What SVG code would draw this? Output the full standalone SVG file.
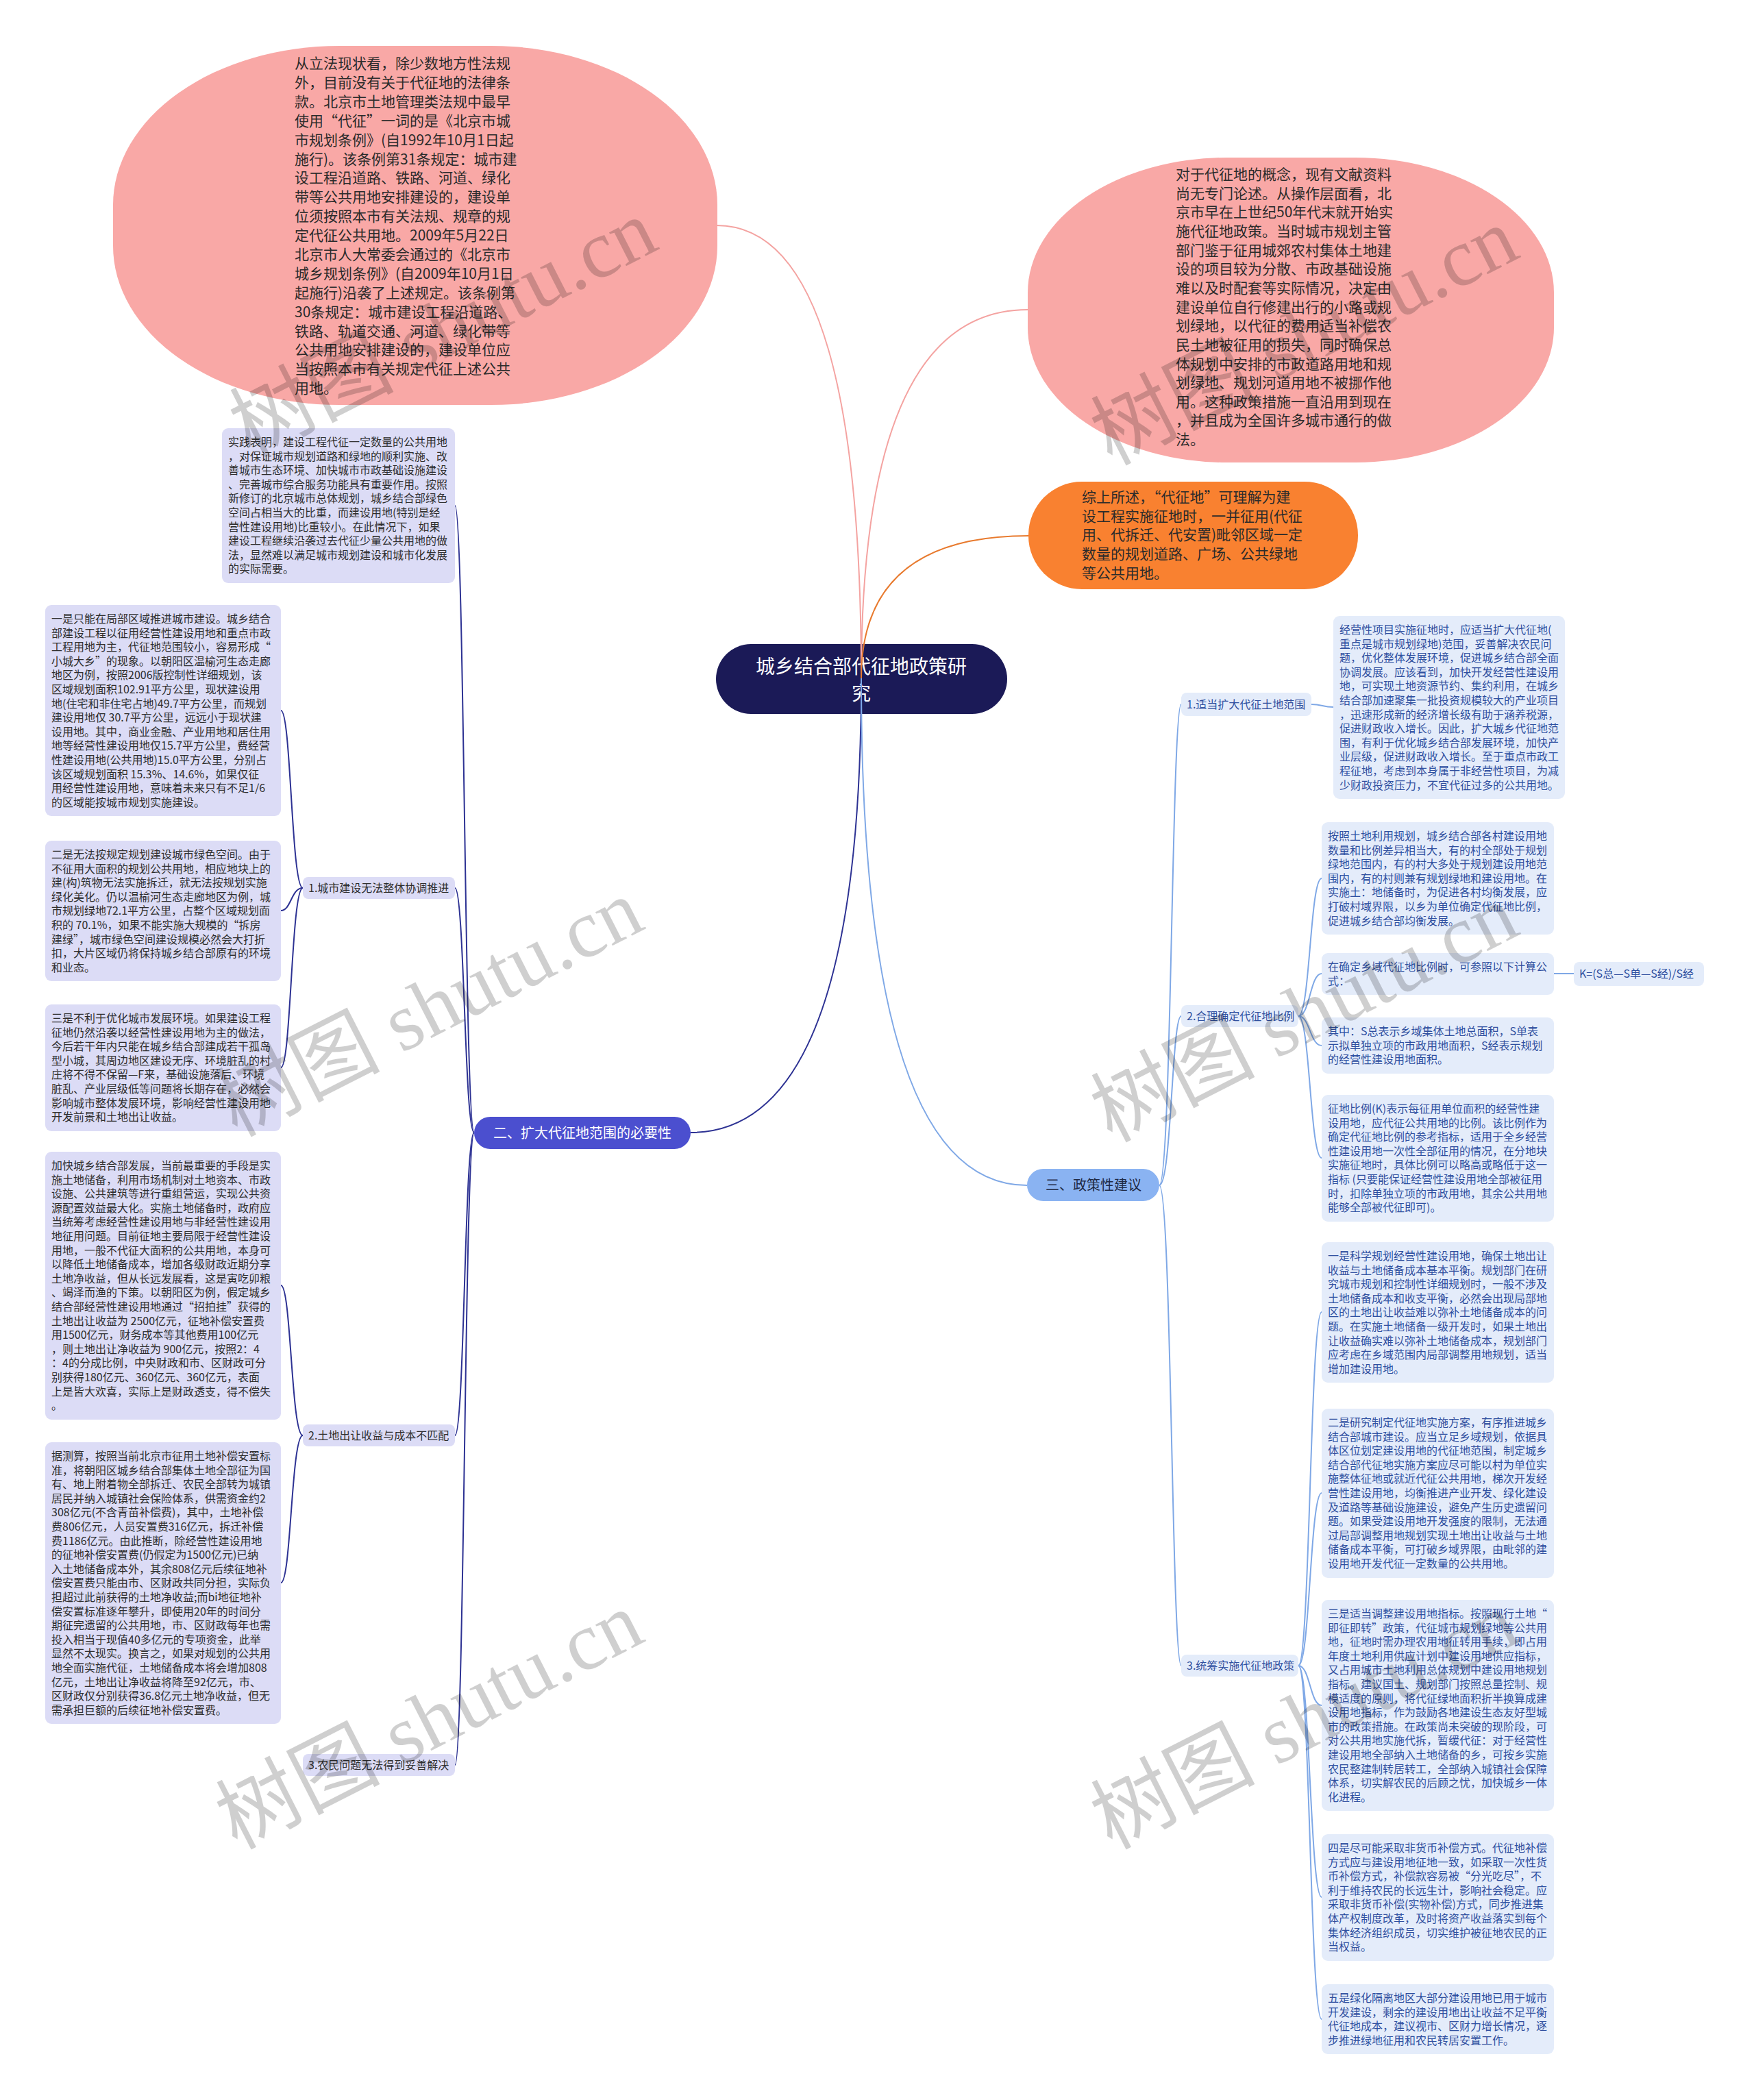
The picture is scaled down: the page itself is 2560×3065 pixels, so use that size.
<svg xmlns="http://www.w3.org/2000/svg" width="2560" height="3065" viewBox="0 0 2560 3065">
<style>
text{font-family:"Noto Sans CJK SC","Liberation Sans",sans-serif}
.big{font-size:21px;fill:#2b2b2b}
.sm{font-size:16px;fill:#2e2e2e}
.smb{font-size:16px;fill:#2f4f9f}
.lav{fill:#dcdcf6}
.lb{fill:#e4ecfa}
.cn{fill:none;stroke-width:2}
.nv{stroke:#2d3293}
.bl{stroke:#7fa8e6}
.wm text{font-family:"Liberation Serif","Noto Sans CJK SC",serif;font-size:120px;fill:#000;fill-opacity:0.19}
</style>
<rect width="2560" height="3065" fill="#ffffff"/>

<g id="n-topleft">
<rect x="165" y="67" width="882" height="524" rx="330" ry="232" fill="#f9a8a6"/>
<text class="big" x="430" y="100"><tspan x="430" dy="0">从立法现状看，除少数地方性法规</tspan><tspan x="430" dy="27.9">外，目前没有关于代征地的法律条</tspan><tspan x="430" dy="27.9">款。北京市土地管理类法规中最早</tspan><tspan x="430" dy="27.9">使用“代征”一词的是《北京市城</tspan><tspan x="430" dy="27.9">市规划条例》(自1992年10月1日起</tspan><tspan x="430" dy="27.9">施行)。该条例第31条规定：城市建</tspan><tspan x="430" dy="27.9">设工程沿道路、铁路、河道、绿化</tspan><tspan x="430" dy="27.9">带等公共用地安排建设的，建设单</tspan><tspan x="430" dy="27.9">位须按照本市有关法规、规章的规</tspan><tspan x="430" dy="27.9">定代征公共用地。2009年5月22日</tspan><tspan x="430" dy="27.9">北京市人大常委会通过的《北京市</tspan><tspan x="430" dy="27.9">城乡规划条例》(自2009年10月1日</tspan><tspan x="430" dy="27.9">起施行)沿袭了上述规定。该条例第</tspan><tspan x="430" dy="27.9">30条规定：城市建设工程沿道路、</tspan><tspan x="430" dy="27.9">铁路、轨道交通、河道、绿化带等</tspan><tspan x="430" dy="27.9">公共用地安排建设的，建设单位应</tspan><tspan x="430" dy="27.9">当按照本市有关规定代征上述公共</tspan><tspan x="430" dy="27.9">用地。</tspan></text>
</g>

<g id="n-topright">
<rect x="1500" y="230" width="768" height="445" rx="290" ry="197" fill="#f9a8a6"/>
<text class="big" x="1716" y="262"><tspan x="1716" dy="0">对于代征地的概念，现有文献资料</tspan><tspan x="1716" dy="27.65">尚无专门论述。从操作层面看，北</tspan><tspan x="1716" dy="27.65">京市早在上世纪50年代末就开始实</tspan><tspan x="1716" dy="27.65">施代征地政策。当时城市规划主管</tspan><tspan x="1716" dy="27.65">部门鉴于征用城郊农村集体土地建</tspan><tspan x="1716" dy="27.65">设的项目较为分散、市政基础设施</tspan><tspan x="1716" dy="27.65">难以及时配套等实际情况，决定由</tspan><tspan x="1716" dy="27.65">建设单位自行修建出行的小路或规</tspan><tspan x="1716" dy="27.65">划绿地，以代征的费用适当补偿农</tspan><tspan x="1716" dy="27.65">民土地被征用的损失，同时确保总</tspan><tspan x="1716" dy="27.65">体规划中安排的市政道路用地和规</tspan><tspan x="1716" dy="27.65">划绿地、规划河道用地不被挪作他</tspan><tspan x="1716" dy="27.65">用。这种政策措施一直沿用到现在</tspan><tspan x="1716" dy="27.65">，并且成为全国许多城市通行的做</tspan><tspan x="1716" dy="27.65">法。</tspan></text>
</g>

<g id="n-orange">
<rect x="1501" y="703" width="481" height="157" rx="78" ry="78" fill="#f98130"/>
<text class="big" x="1579" y="733"><tspan x="1579" dy="0">综上所述，“代征地”可理解为建</tspan><tspan x="1579" dy="27.7">设工程实施征地时，一并征用(代征</tspan><tspan x="1579" dy="27.7">用、代拆迁、代安置)毗邻区域一定</tspan><tspan x="1579" dy="27.7">数量的规划道路、广场、公共绿地</tspan><tspan x="1579" dy="27.7">等公共用地。</tspan></text>
</g>

<g id="n-center">
<rect x="1045" y="940" width="425" height="102" rx="51" ry="51" fill="#1b1a57"/>
<text x="1257" y="983" text-anchor="middle" font-size="28" fill="#ffffff"><tspan x="1257" dy="0">城乡结合部代征地政策研</tspan><tspan x="1257" dy="39">究</tspan></text>
</g>

<g id="n-b2">
<rect x="692" y="1630" width="316" height="47" rx="23.5" fill="#4b4fcf"/>
<text x="850" y="1661" text-anchor="middle" font-size="20" fill="#ffffff">二、扩大代征地范围的必要性</text>
</g>

<g id="n-b3">
<rect x="1499" y="1706" width="193" height="47" rx="23.5" fill="#8ab3f2"/>
<text x="1596" y="1737" text-anchor="middle" font-size="20" fill="#1f2a44">三、政策性建议</text>
</g>

<g id="n-l0">
<rect class="lav" x="324" y="625" width="340" height="226" rx="9"/>
<text class="sm" x="333" y="651"><tspan x="333" dy="0">实践表明，建设工程代征一定数量的公共用地</tspan><tspan x="333" dy="20.6">，对保证城市规划道路和绿地的顺利实施、改</tspan><tspan x="333" dy="20.6">善城市生态环境、加快城市市政基础设施建设</tspan><tspan x="333" dy="20.6">、完善城市综合服务功能具有重要作用。按照</tspan><tspan x="333" dy="20.6">新修订的北京城市总体规划，城乡结合部绿色</tspan><tspan x="333" dy="20.6">空间占相当大的比重，而建设用地(特别是经</tspan><tspan x="333" dy="20.6">营性建设用地)比重较小。在此情况下，如果</tspan><tspan x="333" dy="20.6">建设工程继续沿袭过去代征少量公共用地的做</tspan><tspan x="333" dy="20.6">法，显然难以满足城市规划建设和城市化发展</tspan><tspan x="333" dy="20.6">的实际需要。</tspan></text>
</g>

<g id="n-l1label">
<rect class="lav" x="442" y="1280" width="222" height="32" rx="8"/>
<text class="sm" x="450" y="1302">1.城市建设无法整体协调推进</text>
</g>

<g id="n-l1">
<rect class="lav" x="66" y="883" width="344" height="308" rx="9"/>
<text class="sm" x="75" y="909"><tspan x="75" dy="0">一是只能在局部区域推进城市建设。城乡结合</tspan><tspan x="75" dy="20.6">部建设工程以征用经营性建设用地和重点市政</tspan><tspan x="75" dy="20.6">工程用地为主，代征地范围较小，容易形成“</tspan><tspan x="75" dy="20.6">小城大乡”的现象。以朝阳区温榆河生态走廊</tspan><tspan x="75" dy="20.6">地区为例，按照2006版控制性详细规划，该</tspan><tspan x="75" dy="20.6">区域规划面积102.91平方公里，现状建设用</tspan><tspan x="75" dy="20.6">地(住宅和非住宅占地)49.7平方公里，而规划</tspan><tspan x="75" dy="20.6">建设用地仅 30.7平方公里，远远小于现状建</tspan><tspan x="75" dy="20.6">设用地。其中，商业金融、产业用地和居住用</tspan><tspan x="75" dy="20.6">地等经营性建设用地仅15.7平方公里，费经营</tspan><tspan x="75" dy="20.6">性建设用地(公共用地)15.0平方公里，分别占</tspan><tspan x="75" dy="20.6">该区域规划面积 15.3%、14.6%，如果仅征</tspan><tspan x="75" dy="20.6">用经营性建设用地，意味着未来只有不足1/6</tspan><tspan x="75" dy="20.6">的区域能按城市规划实施建设。</tspan></text>
</g>

<g id="n-l2">
<rect class="lav" x="66" y="1227" width="344" height="205" rx="9"/>
<text class="sm" x="75" y="1253"><tspan x="75" dy="0">二是无法按规定规划建设城市绿色空间。由于</tspan><tspan x="75" dy="20.6">不征用大面积的规划公共用地，相应地块上的</tspan><tspan x="75" dy="20.6">建(构)筑物无法实施拆迁，就无法按规划实施</tspan><tspan x="75" dy="20.6">绿化美化。仍以温榆河生态走廊地区为例，城</tspan><tspan x="75" dy="20.6">市规划绿地72.1平方公里，占整个区域规划面</tspan><tspan x="75" dy="20.6">积的 70.1%，如果不能实施大规模的“拆房</tspan><tspan x="75" dy="20.6">建绿”，城市绿色空间建设规模必然会大打折</tspan><tspan x="75" dy="20.6">扣，大片区域仍将保持城乡结合部原有的环境</tspan><tspan x="75" dy="20.6">和业态。</tspan></text>
</g>

<g id="n-l3">
<rect class="lav" x="66" y="1466" width="344" height="185" rx="9"/>
<text class="sm" x="75" y="1492"><tspan x="75" dy="0">三是不利于优化城市发展环境。如果建设工程</tspan><tspan x="75" dy="20.6">征地仍然沿袭以经营性建设用地为主的做法，</tspan><tspan x="75" dy="20.6">今后若干年内只能在城乡结合部建成若干孤岛</tspan><tspan x="75" dy="20.6">型小城，其周边地区建设无序、环境脏乱的村</tspan><tspan x="75" dy="20.6">庄将不得不保留—F来，基础设施落后、环境</tspan><tspan x="75" dy="20.6">脏乱、产业层级低等问题将长期存在，必然会</tspan><tspan x="75" dy="20.6">影响城市整体发展环境，影响经营性建设用地</tspan><tspan x="75" dy="20.6">开发前景和土地出让收益。</tspan></text>
</g>

<g id="n-l2label">
<rect class="lav" x="442" y="2079" width="222" height="32" rx="8"/>
<text class="sm" x="450" y="2101">2.土地出让收益与成本不匹配</text>
</g>

<g id="n-l4">
<rect class="lav" x="66" y="1681" width="344" height="391" rx="9"/>
<text class="sm" x="75" y="1707"><tspan x="75" dy="0">加快城乡结合部发展，当前最重要的手段是实</tspan><tspan x="75" dy="20.6">施土地储备，利用市场机制对土地资本、市政</tspan><tspan x="75" dy="20.6">设施、公共建筑等进行重组营运，实现公共资</tspan><tspan x="75" dy="20.6">源配置效益最大化。实施土地储备时，政府应</tspan><tspan x="75" dy="20.6">当统筹考虑经营性建设用地与非经营性建设用</tspan><tspan x="75" dy="20.6">地征用问题。目前征地主要局限于经营性建设</tspan><tspan x="75" dy="20.6">用地，一般不代征大面积的公共用地，本身可</tspan><tspan x="75" dy="20.6">以降低土地储备成本，增加各级财政近期分享</tspan><tspan x="75" dy="20.6">土地净收益，但从长远发展看，这是寅吃卯粮</tspan><tspan x="75" dy="20.6">、竭泽而渔的下策。以朝阳区为例，假定城乡</tspan><tspan x="75" dy="20.6">结合部经营性建设用地通过“招拍挂”获得的</tspan><tspan x="75" dy="20.6">土地出让收益为 2500亿元，征地补偿安置费</tspan><tspan x="75" dy="20.6">用1500亿元，财务成本等其他费用100亿元</tspan><tspan x="75" dy="20.6">，则土地出让净收益为 900亿元，按照2：4</tspan><tspan x="75" dy="20.6">：4的分成比例，中央财政和市、区财政可分</tspan><tspan x="75" dy="20.6">别获得180亿元、360亿元、360亿元，表面</tspan><tspan x="75" dy="20.6">上是皆大欢喜，实际上是财政透支，得不偿失</tspan><tspan x="75" dy="20.6">。</tspan></text>
</g>

<g id="n-l5">
<rect class="lav" x="66" y="2105" width="344" height="411" rx="9"/>
<text class="sm" x="75" y="2131"><tspan x="75" dy="0">据测算，按照当前北京市征用土地补偿安置标</tspan><tspan x="75" dy="20.6">准，将朝阳区城乡结合部集体土地全部征为国</tspan><tspan x="75" dy="20.6">有、地上附着物全部拆迁、农民全部转为城镇</tspan><tspan x="75" dy="20.6">居民并纳入城镇社会保险体系，供需资金约2</tspan><tspan x="75" dy="20.6">308亿元(不含青苗补偿费)，其中，土地补偿</tspan><tspan x="75" dy="20.6">费806亿元，人员安置费316亿元，拆迁补偿</tspan><tspan x="75" dy="20.6">费1186亿元。由此推断，除经营性建设用地</tspan><tspan x="75" dy="20.6">的征地补偿安置费(仍假定为1500亿元)已纳</tspan><tspan x="75" dy="20.6">入土地储备成本外，其余808亿元后续征地补</tspan><tspan x="75" dy="20.6">偿安置费只能由市、区财政共同分担，实际负</tspan><tspan x="75" dy="20.6">担超过此前获得的土地净收益;而bi地征地补</tspan><tspan x="75" dy="20.6">偿安置标准逐年攀升，即使用20年的时间分</tspan><tspan x="75" dy="20.6">期征完遗留的公共用地，市、区财政每年也需</tspan><tspan x="75" dy="20.6">投入相当于现值40多亿元的专项资金，此举</tspan><tspan x="75" dy="20.6">显然不太现实。换言之，如果对规划的公共用</tspan><tspan x="75" dy="20.6">地全面实施代征，土地储备成本将会增加808</tspan><tspan x="75" dy="20.6">亿元，土地出让净收益将降至92亿元，市、</tspan><tspan x="75" dy="20.6">区财政仅分别获得36.8亿元土地净收益，但无</tspan><tspan x="75" dy="20.6">需承担巨额的后续征地补偿安置费。</tspan></text>
</g>

<g id="n-l3label">
<rect class="lav" x="442" y="2560" width="222" height="32" rx="8"/>
<text class="sm" x="450" y="2582">3.农民问题无法得到妥善解决</text>
</g>

<g id="n-r1label">
<rect class="lb" x="1724" y="1011" width="190" height="34" rx="8"/>
<text class="smb" x="1732" y="1034">1.适当扩大代征土地范围</text>
</g>

<g id="n-r1">
<rect class="lb" x="1946" y="899" width="338" height="267" rx="9"/>
<text class="smb" x="1955" y="925"><tspan x="1955" dy="0">经营性项目实施征地时，应适当扩大代征地(</tspan><tspan x="1955" dy="20.6">重点是城市规划绿地)范围，妥善解决农民问</tspan><tspan x="1955" dy="20.6">题，优化整体发展环境，促进城乡结合部全面</tspan><tspan x="1955" dy="20.6">协调发展。应该看到，加快开发经营性建设用</tspan><tspan x="1955" dy="20.6">地，可实现土地资源节约、集约利用，在城乡</tspan><tspan x="1955" dy="20.6">结合部加速聚集一批投资规模较大的产业项目</tspan><tspan x="1955" dy="20.6">，迅速形成新的经济增长级有助于涵养税源，</tspan><tspan x="1955" dy="20.6">促进财政收入增长。因此，扩大城乡代征地范</tspan><tspan x="1955" dy="20.6">围，有利于优化城乡结合部发展环境，加快产</tspan><tspan x="1955" dy="20.6">业层级，促进财政收入增长。至于重点市政工</tspan><tspan x="1955" dy="20.6">程征地，考虑到本身属于非经营性项目，为减</tspan><tspan x="1955" dy="20.6">少财政投资压力，不宜代征过多的公共用地。</tspan></text>
</g>

<g id="n-r2label">
<rect class="lb" x="1724" y="1467" width="171" height="32" rx="8"/>
<text class="smb" x="1732" y="1489">2.合理确定代征地比例</text>
</g>

<g id="n-r2">
<rect class="lb" x="1929" y="1200" width="339" height="164" rx="9"/>
<text class="smb" x="1938" y="1226"><tspan x="1938" dy="0">按照土地利用规划，城乡结合部各村建设用地</tspan><tspan x="1938" dy="20.6">数量和比例差异相当大，有的村全部处于规划</tspan><tspan x="1938" dy="20.6">绿地范围内，有的村大多处于规划建设用地范</tspan><tspan x="1938" dy="20.6">围内，有的村则兼有规划绿地和建设用地。在</tspan><tspan x="1938" dy="20.6">实施土：地储备时，为促进各村均衡发展，应</tspan><tspan x="1938" dy="20.6">打破村域界限，以乡为单位确定代征地比例，</tspan><tspan x="1938" dy="20.6">促进城乡结合部均衡发展。</tspan></text>
</g>

<g id="n-r3">
<rect class="lb" x="1929" y="1391" width="339" height="61" rx="9"/>
<text class="smb" x="1938" y="1417"><tspan x="1938" dy="0">在确定乡域代征地比例时，可参照以下计算公</tspan><tspan x="1938" dy="20.6">式：</tspan></text>
</g>

<g id="n-r3a">
<rect class="lb" x="2297" y="1404" width="190" height="35" rx="8"/>
<text class="smb" x="2305" y="1427">K=(S总—S单—S经)/S经</text>
</g>

<g id="n-r4">
<rect class="lb" x="1929" y="1485" width="339" height="82" rx="9"/>
<text class="smb" x="1938" y="1511"><tspan x="1938" dy="0">其中：S总表示乡域集体土地总面积，S单表</tspan><tspan x="1938" dy="20.6">示拟单独立项的市政用地面积，S经表示规划</tspan><tspan x="1938" dy="20.6">的经营性建设用地面积。</tspan></text>
</g>

<g id="n-r5">
<rect class="lb" x="1929" y="1598" width="339" height="185" rx="9"/>
<text class="smb" x="1938" y="1624"><tspan x="1938" dy="0">征地比例(K)表示每征用单位面积的经营性建</tspan><tspan x="1938" dy="20.6">设用地，应代征公共用地的比例。该比例作为</tspan><tspan x="1938" dy="20.6">确定代征地比例的参考指标，适用于全乡经营</tspan><tspan x="1938" dy="20.6">性建设用地一次性全部征用的情况，在分地块</tspan><tspan x="1938" dy="20.6">实施征地时，具体比例可以略高或略低于这一</tspan><tspan x="1938" dy="20.6">指标 (只要能保证经营性建设用地全部被征用</tspan><tspan x="1938" dy="20.6">时，扣除单独立项的市政用地，其余公共用地</tspan><tspan x="1938" dy="20.6">能够全部被代征即可)。</tspan></text>
</g>

<g id="n-r3label">
<rect class="lb" x="1724" y="2415" width="171" height="32" rx="8"/>
<text class="smb" x="1732" y="2437">3.统筹实施代征地政策</text>
</g>

<g id="n-r6">
<rect class="lb" x="1929" y="1813" width="339" height="205" rx="9"/>
<text class="smb" x="1938" y="1839"><tspan x="1938" dy="0">一是科学规划经营性建设用地，确保土地出让</tspan><tspan x="1938" dy="20.6">收益与土地储备成本基本平衡。规划部门在研</tspan><tspan x="1938" dy="20.6">究城市规划和控制性详细规划时，一般不涉及</tspan><tspan x="1938" dy="20.6">土地储备成本和收支平衡，必然会出现局部地</tspan><tspan x="1938" dy="20.6">区的土地出让收益难以弥补土地储备成本的问</tspan><tspan x="1938" dy="20.6">题。在实施土地储备一级开发时，如果土地出</tspan><tspan x="1938" dy="20.6">让收益确实难以弥补土地储备成本，规划部门</tspan><tspan x="1938" dy="20.6">应考虑在乡域范围内局部调整用地规划，适当</tspan><tspan x="1938" dy="20.6">增加建设用地。</tspan></text>
</g>

<g id="n-r7">
<rect class="lb" x="1929" y="2056" width="339" height="247" rx="9"/>
<text class="smb" x="1938" y="2082"><tspan x="1938" dy="0">二是研究制定代征地实施方案，有序推进城乡</tspan><tspan x="1938" dy="20.6">结合部城市建设。应当立足乡域规划，依据具</tspan><tspan x="1938" dy="20.6">体区位划定建设用地的代征地范围，制定城乡</tspan><tspan x="1938" dy="20.6">结合部代征地实施方案应尽可能以村为单位实</tspan><tspan x="1938" dy="20.6">施整体征地或就近代征公共用地，梯次开发经</tspan><tspan x="1938" dy="20.6">营性建设用地，均衡推进产业开发、绿化建设</tspan><tspan x="1938" dy="20.6">及道路等基础设施建设，避免产生历史遗留问</tspan><tspan x="1938" dy="20.6">题。如果受建设用地开发强度的限制，无法通</tspan><tspan x="1938" dy="20.6">过局部调整用地规划实现土地出让收益与土地</tspan><tspan x="1938" dy="20.6">储备成本平衡，可打破乡域界限，由毗邻的建</tspan><tspan x="1938" dy="20.6">设用地开发代征一定数量的公共用地。</tspan></text>
</g>

<g id="n-r8">
<rect class="lb" x="1929" y="2335" width="339" height="308" rx="9"/>
<text class="smb" x="1938" y="2361"><tspan x="1938" dy="0">三是适当调整建设用地指标。按照现行土地“</tspan><tspan x="1938" dy="20.6">即征即转”政策，代征城市规划绿地等公共用</tspan><tspan x="1938" dy="20.6">地，征地时需办理农用地征转用手续，即占用</tspan><tspan x="1938" dy="20.6">年度土地利用供应计划中建设用地供应指标，</tspan><tspan x="1938" dy="20.6">又占用城市土地利用总体规划中建设用地规划</tspan><tspan x="1938" dy="20.6">指标。建议国土、规划部门按照总量控制、规</tspan><tspan x="1938" dy="20.6">模适度的原则，将代征绿地面积折半换算成建</tspan><tspan x="1938" dy="20.6">设用地指标，作为鼓励各地建设生态友好型城</tspan><tspan x="1938" dy="20.6">市的政策措施。在政策尚未突破的现阶段，可</tspan><tspan x="1938" dy="20.6">对公共用地实施代拆，暂缓代征：对于经营性</tspan><tspan x="1938" dy="20.6">建设用地全部纳入土地储备的乡，可按乡实施</tspan><tspan x="1938" dy="20.6">农民整建制转居转工，全部纳入城镇社会保障</tspan><tspan x="1938" dy="20.6">体系，切实解农民的后顾之忧，加快城乡一体</tspan><tspan x="1938" dy="20.6">化进程。</tspan></text>
</g>

<g id="n-r9">
<rect class="lb" x="1929" y="2677" width="339" height="185" rx="9"/>
<text class="smb" x="1938" y="2703"><tspan x="1938" dy="0">四是尽可能采取非货币补偿方式。代征地补偿</tspan><tspan x="1938" dy="20.6">方式应与建设用地征地一致，如采取一次性货</tspan><tspan x="1938" dy="20.6">币补偿方式，补偿款容易被“分光吃尽”，不</tspan><tspan x="1938" dy="20.6">利于维持农民的长远生计，影响社会稳定。应</tspan><tspan x="1938" dy="20.6">采取非货币补偿(实物补偿)方式，同步推进集</tspan><tspan x="1938" dy="20.6">体产权制度改革，及时将资产收益落实到每个</tspan><tspan x="1938" dy="20.6">集体经济组织成员，切实维护被征地农民的正</tspan><tspan x="1938" dy="20.6">当权益。</tspan></text>
</g>

<g id="n-r10">
<rect class="lb" x="1929" y="2896" width="339" height="102" rx="9"/>
<text class="smb" x="1938" y="2922"><tspan x="1938" dy="0">五是绿化隔离地区大部分建设用地已用于城市</tspan><tspan x="1938" dy="20.6">开发建设，剩余的建设用地出让收益不足平衡</tspan><tspan x="1938" dy="20.6">代征地成本，建议视市、区财力增长情况，逐</tspan><tspan x="1938" dy="20.6">步推进绿地征用和农民转居安置工作。</tspan></text>
</g>

<g id="connectors">
<path class="cn" stroke="#f4a3a1" d="M1257 990 Q1257 329 1046 329"/>
<path class="cn" stroke="#f4a3a1" d="M1257 990 Q1257 452 1500 452"/>
<path class="cn" stroke="#e87a2e" stroke-width="3" d="M1257 990 Q1257 782 1501 782"/>
<path class="cn nv" stroke-width="3" d="M1257 990 Q1257 1653 1008 1653"/>
<path class="cn bl" stroke-width="3" d="M1257 990 Q1257 1730 1499 1730"/>
<path class="cn nv" d="M692 1653 C678 1653 678 738 664 738"/>
<path class="cn nv" d="M692 1653 C678 1653 678 1296 664 1296"/>
<path class="cn nv" d="M692 1653 C678 1653 678 2095 664 2095"/>
<path class="cn nv" d="M692 1653 C678 1653 678 2576 664 2576"/>
<path class="cn nv" d="M442 1296 C425 1296 425 1037 410 1037"/>
<path class="cn nv" d="M442 1296 C425 1296 425 1329 410 1329"/>
<path class="cn nv" d="M442 1296 C425 1296 425 1558 410 1558"/>
<path class="cn nv" d="M442 2095 C425 2095 425 1876 410 1876"/>
<path class="cn nv" d="M442 2095 C425 2095 425 2310 410 2310"/>
<path class="cn bl" d="M1692 1730 C1710 1730 1710 1028 1724 1028"/>
<path class="cn bl" d="M1692 1730 C1710 1730 1710 1483 1724 1483"/>
<path class="cn bl" d="M1692 1730 C1710 1730 1710 2431 1724 2431"/>
<path class="cn bl" d="M1914 1028 C1930 1028 1930 1032 1946 1032"/>
<path class="cn bl" d="M1895 1483 C1912 1483 1912 1282 1929 1282"/>
<path class="cn bl" d="M1895 1483 C1912 1483 1912 1421 1929 1421"/>
<path class="cn bl" d="M1895 1483 C1912 1483 1912 1526 1929 1526"/>
<path class="cn bl" d="M1895 1483 C1912 1483 1912 1690 1929 1690"/>
<path class="cn bl" d="M2268 1421 L2297 1421"/>
<path class="cn bl" d="M1895 2431 C1912 2431 1912 1915 1929 1915"/>
<path class="cn bl" d="M1895 2431 C1912 2431 1912 2179 1929 2179"/>
<path class="cn bl" d="M1895 2431 C1912 2431 1912 2489 1929 2489"/>
<path class="cn bl" d="M1895 2431 C1912 2431 1912 2769 1929 2769"/>
<path class="cn bl" d="M1895 2431 C1912 2431 1912 2947 1929 2947"/>
</g>

<g class="wm">
<text transform="translate(365,668) rotate(-27)">树图 shutu.cn</text>
<text transform="translate(1622,680) rotate(-27)">树图 shutu.cn</text>
<text transform="translate(345,1660) rotate(-27)">树图 shutu.cn</text>
<text transform="translate(1622,1668) rotate(-27)">树图 shutu.cn</text>
<text transform="translate(345,2700) rotate(-27)">树图 shutu.cn</text>
<text transform="translate(1622,2700) rotate(-27)">树图 shutu.cn</text>
</g>
</svg>
